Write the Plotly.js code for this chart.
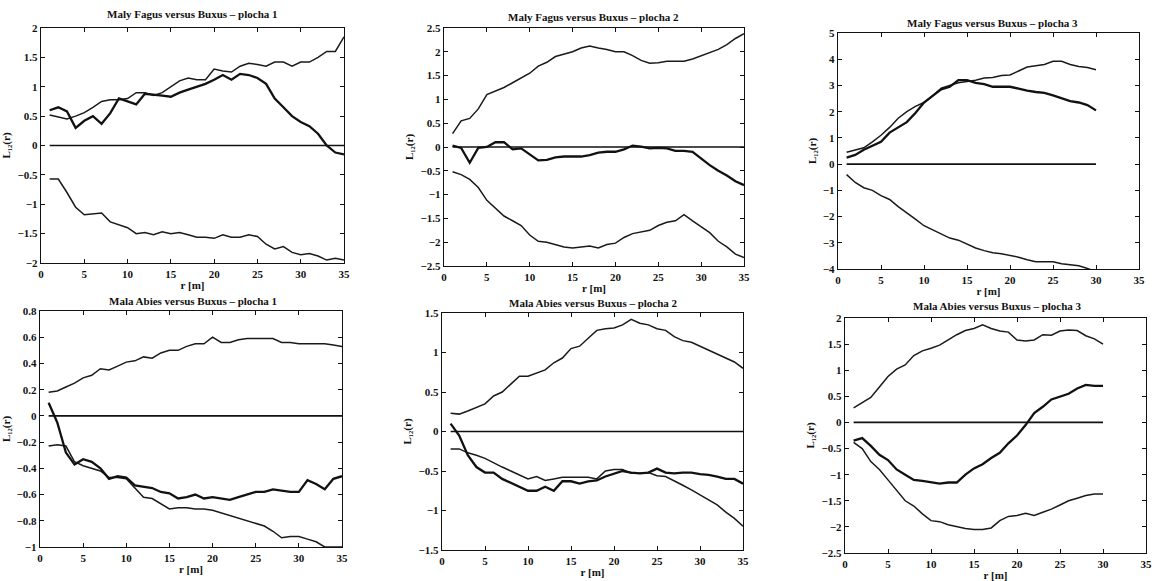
<!DOCTYPE html>
<html>
<head>
<meta charset="utf-8">
<script src="https://cdn.plot.ly/plotly-3.0.1.min.js"></script>
<style>html,body{margin:0;padding:0;background:#fff;}#chart{width:1154px;height:581px;}</style>
</head>
<body>
<div id="chart"></div>
<script>
// ---------- data ----------
const titles = [
  "Maly Fagus versus Buxus – plocha 1",
  "Maly Fagus versus Buxus – plocha 2",
  "Maly Fagus versus Buxus – plocha 3",
  "Mala Abies versus Buxus – plocha 1",
  "Mala Abies versus Buxus – plocha 2",
  "Mala Abies versus Buxus – plocha 3"
];
const r35 = [1,2,3,4,5,6,7,8,9,10,11,12,13,14,15,16,17,18,19,20,21,22,23,24,25,26,27,28,29,30,31,32,33,34,35];
const r30 = [1,2,3,4,5,6,7,8,9,10,11,12,13,14,15,16,17,18,19,20,21,22,23,24,25,26,27,28,29,30];

// Panel 1: Maly Fagus / plocha 1
const p1Upper = [0.52,0.48,0.45,0.5,0.56,0.65,0.75,0.78,0.78,0.8,0.9,0.9,0.85,0.9,1.0,1.1,1.15,1.12,1.12,1.3,1.27,1.25,1.35,1.4,1.38,1.35,1.42,1.42,1.35,1.42,1.42,1.5,1.6,1.6,1.85];
const p1Obs   = [0.6,0.65,0.58,0.3,0.42,0.5,0.37,0.55,0.8,0.75,0.7,0.88,0.87,0.85,0.83,0.9,0.95,1.0,1.05,1.12,1.2,1.12,1.22,1.2,1.15,1.05,0.8,0.65,0.5,0.4,0.33,0.2,0.0,-0.12,-0.15];
const p1Lower = [-0.57,-0.57,-0.8,-1.05,-1.18,-1.17,-1.15,-1.3,-1.35,-1.4,-1.5,-1.48,-1.52,-1.47,-1.5,-1.48,-1.52,-1.56,-1.56,-1.58,-1.52,-1.56,-1.56,-1.52,-1.55,-1.68,-1.76,-1.72,-1.82,-1.86,-1.84,-1.88,-1.95,-1.92,-1.95];

// Panel 2: Maly Fagus / plocha 2
const p2Upper = [0.28,0.55,0.6,0.8,1.1,1.18,1.25,1.35,1.45,1.55,1.7,1.78,1.9,1.95,2.0,2.08,2.12,2.08,2.05,2.0,2.0,1.92,1.82,1.76,1.77,1.8,1.8,1.8,1.85,1.92,1.98,2.05,2.15,2.28,2.38];
const p2Obs   = [0.03,-0.02,-0.33,-0.02,0.0,0.1,0.1,-0.05,-0.03,-0.15,-0.28,-0.27,-0.22,-0.2,-0.2,-0.2,-0.17,-0.12,-0.1,-0.1,-0.05,0.03,0.01,-0.03,-0.02,-0.03,-0.08,-0.08,-0.1,-0.25,-0.38,-0.5,-0.6,-0.72,-0.8];
const p2Lower = [-0.52,-0.58,-0.68,-0.85,-1.12,-1.28,-1.45,-1.55,-1.65,-1.85,-1.98,-2.0,-2.05,-2.1,-2.12,-2.1,-2.08,-2.12,-2.05,-2.02,-1.9,-1.82,-1.78,-1.75,-1.65,-1.58,-1.55,-1.42,-1.55,-1.68,-1.8,-1.98,-2.1,-2.25,-2.32];

// Panel 3: Maly Fagus / plocha 3
const p3Upper = [0.45,0.55,0.62,0.85,1.1,1.4,1.75,2.0,2.2,2.35,2.6,2.9,3.0,3.1,3.15,3.2,3.28,3.3,3.38,3.4,3.55,3.7,3.75,3.8,3.92,3.92,3.8,3.72,3.68,3.6];
const p3Obs   = [0.25,0.35,0.55,0.7,0.85,1.2,1.4,1.6,1.95,2.35,2.6,2.85,2.95,3.2,3.2,3.1,3.05,2.95,2.95,2.95,2.88,2.8,2.75,2.72,2.62,2.5,2.4,2.35,2.25,2.05];
const p3Lower = [-0.4,-0.7,-0.9,-1.0,-1.2,-1.35,-1.62,-1.85,-2.1,-2.35,-2.5,-2.65,-2.82,-2.9,-3.05,-3.2,-3.3,-3.38,-3.42,-3.48,-3.55,-3.65,-3.72,-3.72,-3.72,-3.8,-3.85,-3.88,-3.98,-4.1];

// Panel 4: Mala Abies / plocha 1
const p4Upper = [0.18,0.19,0.22,0.25,0.29,0.31,0.36,0.35,0.38,0.41,0.42,0.45,0.44,0.48,0.5,0.5,0.53,0.55,0.55,0.6,0.56,0.56,0.58,0.59,0.59,0.59,0.59,0.56,0.56,0.55,0.55,0.55,0.55,0.54,0.53];
const p4Obs   = [0.1,-0.05,-0.28,-0.37,-0.33,-0.35,-0.4,-0.48,-0.46,-0.47,-0.53,-0.54,-0.55,-0.58,-0.59,-0.63,-0.62,-0.6,-0.63,-0.62,-0.63,-0.64,-0.62,-0.6,-0.58,-0.58,-0.56,-0.57,-0.58,-0.58,-0.49,-0.52,-0.56,-0.48,-0.46];
const p4Lower = [-0.23,-0.22,-0.23,-0.35,-0.38,-0.4,-0.42,-0.47,-0.47,-0.48,-0.55,-0.62,-0.63,-0.67,-0.71,-0.7,-0.7,-0.71,-0.71,-0.72,-0.74,-0.76,-0.78,-0.8,-0.82,-0.84,-0.88,-0.93,-0.92,-0.92,-0.94,-0.96,-1.0,-1.0,-1.0];

// Panel 5: Mala Abies / plocha 2
const p5Upper = [0.23,0.22,0.26,0.3,0.35,0.45,0.5,0.6,0.7,0.7,0.74,0.78,0.87,0.93,1.05,1.08,1.18,1.28,1.3,1.31,1.35,1.42,1.37,1.35,1.3,1.28,1.2,1.15,1.13,1.08,1.03,0.99,0.94,0.88,0.8];
const p5Obs   = [0.1,-0.05,-0.3,-0.45,-0.52,-0.52,-0.6,-0.65,-0.7,-0.75,-0.75,-0.7,-0.75,-0.63,-0.63,-0.66,-0.63,-0.62,-0.57,-0.53,-0.5,-0.52,-0.53,-0.52,-0.47,-0.52,-0.53,-0.52,-0.52,-0.54,-0.55,-0.57,-0.6,-0.6,-0.66];
const p5Lower = [-0.22,-0.22,-0.27,-0.3,-0.34,-0.4,-0.45,-0.5,-0.55,-0.6,-0.57,-0.62,-0.6,-0.58,-0.58,-0.58,-0.58,-0.6,-0.5,-0.48,-0.48,-0.53,-0.53,-0.52,-0.56,-0.57,-0.62,-0.68,-0.74,-0.8,-0.86,-0.93,-1.02,-1.1,-1.2];

// Panel 6: Mala Abies / plocha 3
const p6Upper = [0.28,0.38,0.48,0.68,0.88,1.02,1.1,1.28,1.37,1.42,1.48,1.58,1.68,1.76,1.8,1.87,1.8,1.75,1.73,1.58,1.56,1.58,1.68,1.67,1.75,1.77,1.76,1.66,1.6,1.5];
const p6Obs   = [-0.35,-0.3,-0.45,-0.62,-0.72,-0.9,-1.0,-1.1,-1.12,-1.15,-1.17,-1.15,-1.15,-1.0,-0.88,-0.8,-0.68,-0.58,-0.4,-0.25,-0.05,0.18,0.3,0.44,0.5,0.55,0.65,0.72,0.7,0.7];
const p6Lower = [-0.38,-0.5,-0.75,-0.9,-1.1,-1.3,-1.5,-1.6,-1.75,-1.88,-1.9,-1.96,-2.0,-2.03,-2.05,-2.05,-2.02,-1.88,-1.8,-1.78,-1.74,-1.78,-1.72,-1.66,-1.58,-1.5,-1.45,-1.4,-1.37,-1.37];

const yRanges = [[-2,2],[-2.5,2.5],[-4,5],[-1,0.8],[-1.5,1.5],[-2.5,2]];
const yDtick  = [0.5,0.5,1,0.2,0.5,0.5];
const xLabel = "r [m]";
const yLabel = "L\u2081\u2082(r)";

// ---------- layout geometry (pixels) ----------
const W = 1154, H = 581;
const boxes = [ // [left, right, top, bottom] in px
  [41,344,28,263],[444,744,28,266],[838,1139,33,269],
  [40,342,311,547],[442,743,313,550],[845,1146,318,553]
];
const titlePos = [[192,14],[593,17],[992,23],[193,301],[593,303],[997,306]];

const panels = [
  {r:r35, up:p1Upper, obs:p1Obs, lo:p1Lower},
  {r:r35, up:p2Upper, obs:p2Obs, lo:p2Lower},
  {r:r30, up:p3Upper, obs:p3Obs, lo:p3Lower},
  {r:r35, up:p4Upper, obs:p4Obs, lo:p4Lower},
  {r:r35, up:p5Upper, obs:p5Obs, lo:p5Lower},
  {r:r30, up:p6Upper, obs:p6Obs, lo:p6Lower}
];

const serif = "Liberation Serif, DejaVu Serif, serif";
const traces = [];
const layout = {
  width: W, height: H, margin:{l:0,r:0,t:0,b:0},
  paper_bgcolor:"#fff", plot_bgcolor:"#fff", showlegend:false,
  font:{family:serif, color:"#111", size:11},
  annotations: []
};

panels.forEach((p, i) => {
  const n = i+1;
  const xa = n===1 ? "x" : "x"+n, ya = n===1 ? "y" : "y"+n;
  const zero = p.r.map(() => 0);
  traces.push({x:p.r, y:zero, xaxis:xa, yaxis:ya, mode:"lines", line:{color:"#111", width:1.7}});
  traces.push({x:p.r, y:p.up, xaxis:xa, yaxis:ya, mode:"lines", line:{color:"#1a1a1a", width:1.5}});
  traces.push({x:p.r, y:p.lo, xaxis:xa, yaxis:ya, mode:"lines", line:{color:"#1a1a1a", width:1.5}});
  traces.push({x:p.r, y:p.obs, xaxis:xa, yaxis:ya, mode:"lines", line:{color:"#111", width:2.3}});
  const b = boxes[i];
  const axCommon = {
    showgrid:false, zeroline:false, showline:true, linecolor:"#111", linewidth:1.3,
    mirror:"ticks", ticks:"inside", ticklen:4, tickcolor:"#111",
    tickfont:{family:serif, size:11, color:"#111", weight:"bold"}
  };
  layout["xaxis"+(n===1?"":n)] = Object.assign({}, axCommon, {
    domain:[b[0]/W, b[1]/W], anchor:ya, range:[0,35], dtick:5, tick0:0,
    title:{text:xLabel, font:{family:serif, size:11, color:"#111", weight:"bold"}, standoff:2}
  });
  layout["yaxis"+(n===1?"":n)] = Object.assign({}, axCommon, {
    domain:[1-b[3]/H, 1-b[2]/H], anchor:xa, range:yRanges[i], dtick:yDtick[i], tick0:0,
    title:{text:yLabel, font:{family:serif, size:11, color:"#111", weight:"bold"}, standoff:4}
  });
  layout.annotations.push({
    text:titles[i], xref:"paper", yref:"paper", x:titlePos[i][0]/W, y:1-titlePos[i][1]/H,
    xanchor:"center", yanchor:"middle", showarrow:false,
    font:{family:serif, size:11, color:"#111", weight:"bold"}
  });
});

Plotly.newPlot("chart", traces, layout, {displayModeBar:false, staticPlot:true});
</script>
</body>
</html>
